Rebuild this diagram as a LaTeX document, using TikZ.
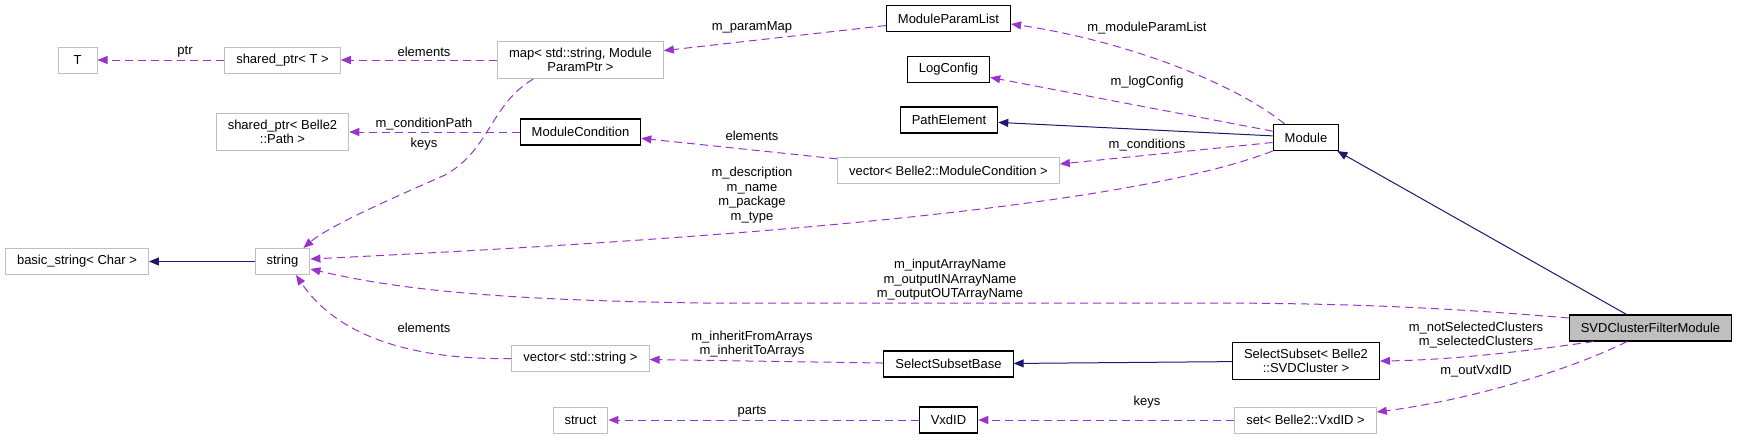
\documentclass[tikz,border=0pt]{standalone}
\usepackage{fontspec}
\setmainfont{Liberation Sans}
\usetikzlibrary{arrows.meta}
\definecolor{usecol}{HTML}{9A32CD}
\definecolor{inhcol}{HTML}{191970}
\definecolor{extgray}{HTML}{BFBFBF}
\tikzset{
  klass/.style={draw=black, line width=1.1pt, fill=white, inner xsep=11.5pt, inner ysep=6.5pt, minimum height=26pt, align=center},
  extern/.style={klass, draw=extgray, line width=1pt},
  usedby/.style={draw=usecol, line width=1pt, dash pattern=on 8pt off 5pt, -{Triangle[length=10pt,width=8pt]}},
  inherit/.style={draw=inhcol, line width=1pt, -{Triangle[length=10pt,width=8pt]}},
  lbl/.style={inner sep=0pt, align=center}
}
\begin{document}
\begin{tikzpicture}[x=1pt,y=1pt,font=\fontsize{13}{14.6}\selectfont]
        \useasboundingbox (0,0) rectangle (1737,-439);
        \node[extern, minimum width=39pt] (T) at (77.5,-60) {T};
        \node[extern] (sptrT) at (282.5,-60) {shared\_ptr< T >};
        \node[extern] (map) at (580.5,-60) {map< std::string, Module\\ParamPtr >};
        \node[klass] (mplist) at (948.5,-18.5) {ModuleParamList};
        \node[klass] (logcfg) at (948.5,-69.5) {LogConfig};
        \node[klass] (pathel) at (949,-120) {PathElement};
        \node[klass] (modcond) at (580.5,-132) {ModuleCondition};
        \node[extern] (sptrpath) at (282.5,-132) {shared\_ptr< Belle2\\::Path >};
        \node[extern] (vecmc) at (948.5,-170.5) {vector< Belle2::ModuleCondition >};
        \node[klass] (module) at (1306,-137.5) {Module};
        \node[extern] (basicstr) at (77,-261.5) {basic\_string< Char >};
        \node[extern] (string) at (282.5,-261.5) {string};
        \node[extern] (vecstr) at (580.5,-358.5) {vector< std::string >};
        \node[extern] (struct) at (580.5,-420) {struct};
        \node[klass] (ssbase) at (948.5,-364) {SelectSubsetBase};
        \node[klass] (vxdid) at (948.5,-420) {VxdID};
        \node[klass] (selsub) at (1306,-361) {SelectSubset< Belle2\\::SVDCluster >};
        \node[extern] (setvxd) at (1305.5,-420) {set< Belle2::VxdID >};
        \node[klass, fill=extgray] (svd) at (1650.5,-328) {SVDClusterFilterModule};
        \draw[usedby] (sptrT) -- (T);
        \node[lbl] (l-ptr) at (185,-52) {ptr};
        \draw[usedby] (map) -- (sptrT);
        \node[lbl] (l-elem1) at (424,-52) {elements};
        \draw[usedby] (mplist) -- (map);
        \node[lbl] (l-pmap) at (752,-27) {m\_paramMap};
        \draw[usedby] ([xshift=12pt]module.north west) .. controls (1230,-80) and (1120,-40) .. ([yshift=-5.5pt]mplist.east);
        \node[lbl] (l-mplist) at (1147,-28) {m\_moduleParamList};
        \draw[usedby] (module) -- (logcfg);
        \node[lbl] (l-logcfg) at (1147,-82) {m\_logConfig};
        \draw[inherit] (module) -- (pathel);
        \draw[usedby] ([yshift=-5pt]module.west) -- ([yshift=6.5pt]vecmc.east);
        \node[lbl] (l-cond) at (1147,-145) {m\_conditions};
        \draw[usedby] (vecmc) -- (modcond);
        \node[lbl] (l-elem2) at (752,-136) {elements};
        \draw[usedby] (modcond) -- (sptrpath);
        \node[lbl] (l-cpath) at (424,-124) {m\_conditionPath};
        \draw[usedby] ([xshift=36pt]map.south west) .. controls (490,-105) and (490,-150) .. (445,-175) .. controls (400,-195) and (330,-225) .. ([xshift=-7pt]string.north east);
        \node[lbl] (l-keys1) at (424,-144) {keys};
        \draw[usedby] (module.south west) .. controls (1120,-210) and (700,-240) .. ([yshift=2.5pt]string.east);
        \node[lbl] (l-desc) at (752,-195) {m\_description\\m\_name\\m\_package\\m\_type};
        \draw[inherit] (string) -- (basicstr);
        \draw[inherit] ([xshift=-24pt]svd.north) -- ([xshift=-2pt]module.south east);
        \draw[usedby] ([yshift=10pt]svd.west) .. controls (1450,-308) and (1350,-303) .. (1200,-303) -- (700,-303) .. controls (500,-300) and (400,-290) .. ([yshift=-7.5pt]string.east);
        \node[lbl] (l-arr) at (950,-280) {m\_inputArrayName\\m\_outputINArrayName\\m\_outputOUTArrayName};
        \draw[usedby] ([xshift=-57pt]svd.south) .. controls (1520,-352) and (1450,-360) .. (selsub.east);
        \node[lbl] (l-clus) at (1476,-335) {m\_notSelectedClusters\\m\_selectedClusters};
        \draw[usedby] ([xshift=-23.5pt]svd.south) .. controls (1570,-370) and (1470,-400) .. ([yshift=8pt]setvxd.east);
        \node[lbl] (l-outvxd) at (1476,-371) {m\_outVxdID};
        \draw[inherit] (selsub) -- (ssbase);
        \draw[usedby] (ssbase) -- (vecstr);
        \node[lbl] (l-inh) at (752,-344) {m\_inheritFromArrays\\m\_inheritToArrays};
        \draw[usedby] (vecstr.west) .. controls (420,-360) and (340,-340) .. ([xshift=13.5pt]string.south);
        \node[lbl] (l-elem3) at (424,-328) {elements};
        \draw[usedby] (setvxd) -- (vxdid);
        \node[lbl] (l-keys2) at (1147,-402) {keys};
        \draw[usedby] (vxdid) -- (struct);
        \node[lbl] (l-parts) at (752,-412) {parts};
\end{tikzpicture}
\end{document}
